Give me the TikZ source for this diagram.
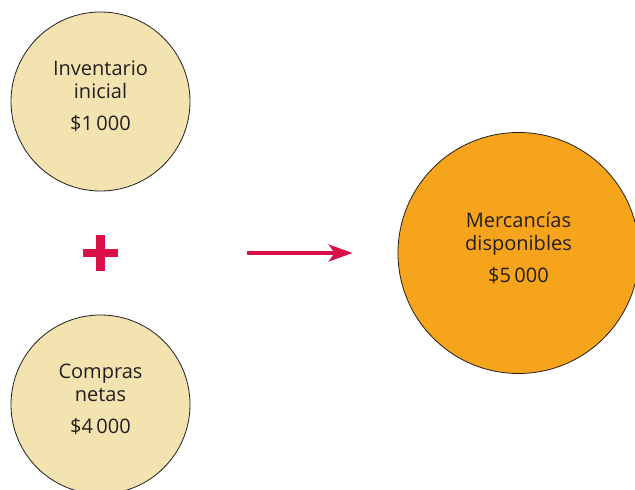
\documentclass[tikz,border=0pt]{standalone}
\usepackage{fontspec}
\setmainfont{Open Sans}
\usetikzlibrary{arrows.meta}
\definecolor{sand}{RGB}{242,227,176}
\definecolor{amber}{RGB}{247,164,29}
\definecolor{crimson}{RGB}{217,16,72}
\definecolor{ink}{RGB}{35,31,32}

\begin{document}
\begin{tikzpicture}[x=1pt, y=1pt,
    stock/.style={circle, draw=ink, line width=0.8pt, fill=sand, minimum size=179pt, inner sep=0pt, align=center, text=ink, text depth=12pt, font=\fontsize{20}{23}\selectfont},
    flow/.style={crimson, line width=3.5pt, -{Stealth[length=24pt, width=17pt, inset=6pt]}}]
    \clip (0,0) rectangle (635,490);
    \node[stock] (inicial) at (100.5,388.5) {Inventario\\inicial\\[9pt]\$1\,000};
    \node[stock] (compras) at (100.5,85.5) {Compras\\netas\\[9pt]\$4\,000};
    \node[stock, fill=amber, minimum size=241pt] (disponible) at (518.5,237) {Mercancías\\disponibles\\[9pt]\$5\,000};
    % plus sign between the two inputs
    \node[inner sep=0pt] (mas) at (100.5,237) {};
    \fill[crimson] (mas) +(-17.8,-4.2) rectangle +(17.8,4.2);
    \fill[crimson] (mas) +(-4.2,-17.8) rectangle +(4.2,17.8);
    \coordinate (desde) at (247,237);
    \draw[flow, shorten >=45pt] (desde) -- (disponible.west);
\end{tikzpicture}
\end{document}
